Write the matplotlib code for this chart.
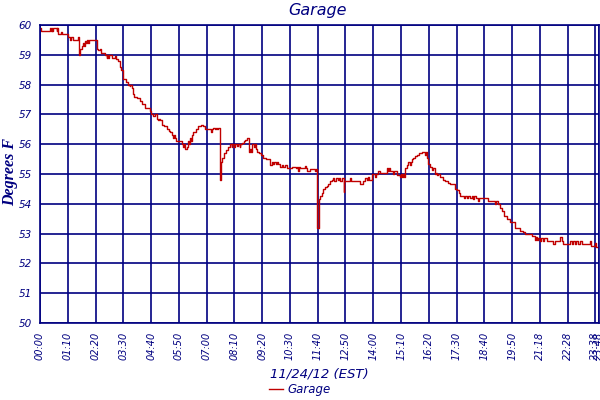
import matplotlib.pyplot as plt

# sample index (1 per minute) and temperature at each step change
idx = [0, 3, 25, 27, 29, 31, 33, 38, 42, 44, 46, 54, 56,
       71, 76, 79, 82, 97, 99, 100, 105, 108, 110, 113, 116, 119, 121, 124,
       143, 147, 150, 155, 164, 168, 170, 172, 174, 181, 189, 192, 197,
       202, 205, 208, 210, 218, 221, 223, 226, 228, 231, 235, 238, 244,
       252, 258, 265, 277, 281, 286, 290, 294, 297, 300, 302, 307, 313,
       319, 324, 328, 332, 336, 338, 341, 344, 357, 360, 362, 365, 370,
       374, 376, 378, 380, 382, 386, 392, 398, 407, 411, 416, 432, 434,
       437, 441, 443, 446, 448,
       454, 455, 457, 460, 464, 470, 475, 480, 483, 485, 490, 492, 496,
       498, 503, 505, 508, 513, 517, 521, 528, 530, 532, 534, 540, 542,
       544, 546, 552, 558, 563, 570, 580, 584, 588, 590, 594, 597, 600,
       605, 610, 613, 617, 622, 634, 645, 649, 651, 653, 655, 668, 670,
       672, 681, 693, 695, 697, 699, 702, 704, 706, 710, 714, 718, 723,
       727, 731, 735, 739, 742, 745, 750, 753, 756, 760, 765, 767, 781,
       784, 807, 815, 819, 823, 826, 830, 836, 844, 846, 853, 857, 874,
       878, 880, 882, 890, 893, 899, 905, 908, 910, 912, 915, 918,
       920, 924, 928, 932, 934, 937, 941, 946, 950, 956, 962, 971, 973,
       975, 979, 983, 987, 991, 996, 999, 1001, 1004, 1008, 1015, 1022,
       1029, 1033, 1046, 1050, 1055, 1059, 1068, 1072, 1076, 1080, 1084,
       1088, 1092, 1095, 1100, 1104, 1106, 1130, 1148, 1150, 1155, 1160,
       1164, 1170, 1176, 1185, 1197, 1210, 1218, 1223, 1239, 1248, 1250,
       1253, 1256, 1260, 1263, 1267, 1270, 1277, 1294, 1298, 1311, 1315,
       1319, 1336, 1340, 1344, 1348, 1352, 1356, 1360, 1365, 1386, 1389,
       1399, 1401, 1409]
temp = [59.9, 59.8, 59.9, 59.8, 59.9, 59.8, 59.9, 59.9, 59.8, 59.9, 59.7, 59.75, 59.7,
        59.6, 59.5, 59.6, 59.5, 59.6, 59.0, 59.2, 59.3, 59.4, 59.3, 59.45, 59.4, 59.5, 59.4, 59.5,
        59.2, 59.15, 59.2, 59.05, 59.0, 58.9, 59.0, 58.9, 59.0, 58.9, 58.95, 58.85, 58.8,
        58.6, 58.5, 58.35, 58.2, 58.1, 58.05, 58.0, 57.95, 58.0, 57.9, 57.7, 57.6, 57.55,
        57.45, 57.35, 57.2, 57.1, 57.0, 56.95, 57.0, 56.85, 56.8, 56.85, 56.8, 56.65, 56.6,
        56.5, 56.45, 56.4, 56.3, 56.2, 56.3, 56.2, 56.1, 56.0, 55.9, 56.0, 55.85, 55.9,
        56.1, 56.0, 56.2, 56.1, 56.3, 56.4, 56.5, 56.6, 56.65, 56.6, 56.5, 56.4, 56.5,
        56.55, 56.5, 56.55, 56.5, 56.55,
        54.8, 55.2, 55.4, 55.55, 55.7, 55.8, 55.9, 56.0, 55.9, 56.0, 55.9, 56.0, 55.95,
        56.0, 55.9, 56.0, 56.05, 56.1, 56.15, 56.2, 55.75, 55.85, 55.75, 56.0, 55.9, 56.0,
        55.85, 55.75, 55.7, 55.65, 55.55, 55.5, 55.3, 55.4, 55.35, 55.4, 55.35, 55.4, 55.35,
        55.25, 55.3, 55.25, 55.3, 55.2, 55.25, 55.2, 55.25, 55.1, 55.25, 55.2, 55.28, 55.2,
        55.1, 55.17, 55.1, 55.17, 54.25, 53.2, 53.8, 54.15, 54.25, 54.35, 54.5, 54.55, 54.6,
        54.65, 54.75, 54.8, 54.85, 54.75, 54.85, 54.8, 54.85, 54.75, 54.85, 54.4, 54.75, 54.85,
        54.75, 54.65, 54.75, 54.85, 54.8, 54.9, 54.8, 55.0, 54.9, 55.0, 55.1, 55.03, 55.2,
        55.1, 55.2, 55.1, 55.0, 55.1, 54.98, 54.95, 54.9, 55.0, 54.9, 55.0, 54.9,
        55.2, 55.3, 55.4, 55.3, 55.4, 55.5, 55.55, 55.6, 55.65, 55.7, 55.73, 55.65, 55.75,
        55.55, 55.35, 55.25, 55.15, 55.2, 55.0, 55.05, 54.95, 55.0, 54.9, 54.8, 54.75,
        54.7, 54.65, 54.5, 54.45, 54.35, 54.25, 54.2, 54.25, 54.2, 54.25, 54.2,
        54.25, 54.15, 54.25, 54.2, 54.1, 54.2, 54.1, 54.0, 54.1, 54.0, 53.85,
        53.75, 53.6, 53.5, 53.4, 53.2, 53.1, 53.05, 53.0, 52.92, 52.8, 52.9,
        52.8, 52.85, 52.75, 52.85, 52.75, 52.85, 52.75, 52.65, 52.75, 52.87, 52.75,
        52.65, 52.75, 52.65, 52.75, 52.65, 52.75, 52.65, 52.75, 52.65, 52.75, 52.6,
        52.7, 52.55, 52.55]

tick_pos = [0, 70, 140, 210, 280, 350, 420, 490, 560, 630, 700, 770, 840,
            910, 980, 1050, 1120, 1190, 1260, 1330, 1400, 1409]
tick_labels = ["00:00", "01:10", "02:20", "03:30", "04:40", "05:50", "07:00",
               "08:10", "09:20", "10:30", "11:40", "12:50", "14:00", "15:10",
               "16:20", "17:30", "18:40", "19:50", "21:18", "22:28", "23:38",
               "23:48"]
y_ticks = [50, 51, 52, 53, 54, 55, 56, 57, 58, 59, 60]

navy = "#000080"
red = "#c00000"

fig = plt.figure(figsize=(6, 4), dpi=100)
ax = fig.add_axes([40 / 600, 77 / 400, 559 / 600, 298 / 400])

ax.plot(idx, temp, drawstyle="steps-post", color=red, linewidth=1.0, label="Garage")

ax.set_xlim(0, 1409)
ax.set_ylim(50, 60)
ax.set_xticks(tick_pos)
ax.set_xticklabels(tick_labels, rotation=90, fontsize=7, style="italic", color=navy)
ax.set_yticks(y_ticks)
ax.set_yticklabels([str(v) for v in y_ticks], fontsize=7.5, style="italic", color=navy)
ax.tick_params(length=0, pad=6)
ax.grid(True, color=navy, linewidth=1.2)
ax.set_axisbelow(True)
for s in ax.spines.values():
    s.set_color(navy)
    s.set_linewidth(1.2)

fig.text(0.53, 0.975, "Garage", ha="center", va="center", fontsize=11.5,
         style="italic", color=navy)
ax.set_xlabel("11/24/12 (EST)", fontsize=9.5, style="italic", color=navy, labelpad=6)
fig.text(10 / 600, 0.57, "Degrees F", rotation=90, ha="center", va="center",
         fontsize=11.5, style="italic", fontweight="bold",
         family="Liberation Serif", color=navy)

leg = fig.legend(loc="center", bbox_to_anchor=(0.5, 0.027), frameon=False,
                 fontsize=8.5, handlelength=1.2, handletextpad=0.4)
for t in leg.get_texts():
    t.set_color(navy)
    t.set_style("italic")

fig.savefig("out.png", dpi=100)
